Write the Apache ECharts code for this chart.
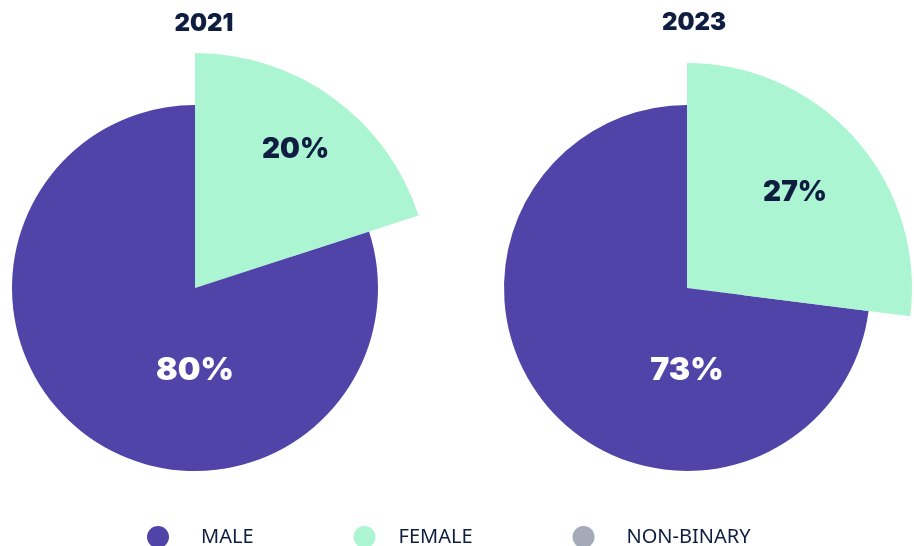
<!DOCTYPE html>
<html>
<head>
<meta charset="utf-8">
<script src="https://cdn.jsdelivr.net/npm/echarts@6/dist/echarts.min.js"></script>
<style>
  html, body { margin: 0; padding: 0; background: #fff; }
  #chart { width: 914px; height: 546px; }
</style>
</head>
<body>
<div id="chart"></div>
<script>
// data
const years = ['2021', '2023'];
const categories = ['MALE', 'FEMALE', 'NON-BINARY'];
const male = [80, 73];
const female = [20, 27];
const nonBinary = [0, 0];

const colors = { MALE: '#5144a8', FEMALE: '#abf5d3', 'NON-BINARY': '#a4aab8' };
const navy = '#0f1d40';

// layout for each pie
const centers = [[195, 288], [687, 288]];
const outerR = [[101, 235], [57, 225]];
const innerR = 183;
// legend text spacing is a bit uneven in the original
const legendPad = { MALE: [0, 0, 0, 27], FEMALE: [0, 5, 0, 18], 'NON-BINARY': [0, 0, 0, 27] };

const chart = echarts.init(document.getElementById('chart'));

const series = [];
years.forEach((y, i) => {
  // base pie: every slice at the normal radius
  series.push({
    type: 'pie',
    center: centers[i],
    radius: [0, innerR],
    startAngle: 90,
    silent: true,
    emphasis: { disabled: true },
    labelLine: { show: false },
    data: [
      { name: 'FEMALE', value: female[i], itemStyle: { color: colors.FEMALE }, label: { show: false } },
      {
        name: 'MALE', value: male[i], itemStyle: { color: colors.MALE },
        label: {
          show: true, position: 'center',
          // blank first line pushes the value below the centre
          formatter: '{gap| }\n{v|{c}%}',
          rich: {
            gap: { height: 164, lineHeight: 164, fontSize: 10 },
            v: { color: '#fff', fontSize: 32, fontWeight: 900, fontFamily: 'Inter', lineHeight: 36 }
          }
        }
      },
      { name: 'NON-BINARY', value: nonBinary[i], itemStyle: { color: colors['NON-BINARY'] }, label: { show: false } }
    ]
  });
  // the female slice sticks out further
  series.push({
    type: 'pie',
    center: centers[i],
    radius: outerR[i],
    startAngle: 90,
    silent: true,
    emphasis: { disabled: true },
    labelLine: { show: false },
    data: [
      {
        name: 'FEMALE', value: female[i], itemStyle: { color: colors.FEMALE },
        label: {
          show: true, position: 'inside', formatter: '{c}%',
          color: navy, fontSize: 28, fontWeight: 900, fontFamily: 'Inter'
        }
      },
      { name: 'MALE', value: male[i], itemStyle: { color: 'rgba(0,0,0,0)' }, label: { show: false } },
      { name: 'NON-BINARY', value: nonBinary[i], itemStyle: { color: 'rgba(0,0,0,0)' }, label: { show: false } }
    ]
  });
});

const option = {
  animation: false,
  title: [
    { text: years[0], left: 199, top: 7, textAlign: 'center',
      textStyle: { color: navy, fontSize: 24, fontWeight: 900, fontFamily: 'Inter' } },
    { text: years[1], left: 689, top: 6, textAlign: 'center',
      textStyle: { color: navy, fontSize: 24, fontWeight: 900, fontFamily: 'Inter' } }
  ],
  legend: {
    data: categories.map(c => ({
      name: c,
      itemStyle: { color: colors[c] },
      textStyle: { padding: legendPad[c] }
    })),
    icon: 'circle',
    itemWidth: 22,
    itemHeight: 22,
    itemGap: 100,
    left: 142,
    top: 521,
    selectedMode: false,
    textStyle: {
      color: navy, fontSize: 20, fontFamily: 'Noto Sans'
    }
  },
  series: series
};

chart.setOption(option);
</script>
</body>
</html>
